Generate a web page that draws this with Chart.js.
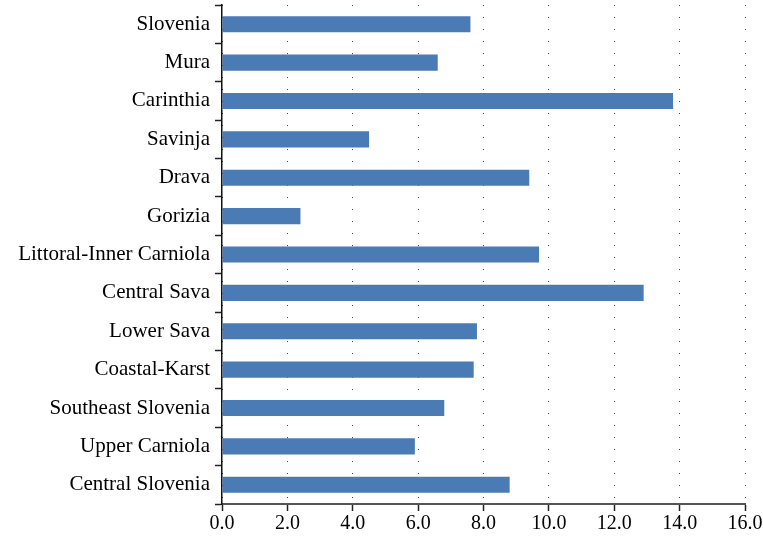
<!DOCTYPE html>
<html>
<head>
<meta charset="utf-8">
<script src="https://cdn.jsdelivr.net/npm/chart.js@4"></script>
<style>
html,body{margin:0;padding:0;background:#fff;}
#wrap{width:763px;height:541px;}
</style>
</head>
<body>
<div id="wrap"><canvas id="c" width="763" height="541"></canvas></div>
<script>
const categories = ["Slovenia","Mura","Carinthia","Savinja","Drava","Gorizia","Littoral-Inner Carniola","Central Sava","Lower Sava","Coastal-Karst","Southeast Slovenia","Upper Carniola","Central Slovenia"];
const values = [7.6, 6.6, 13.8, 4.5, 9.4, 2.4, 9.7, 12.9, 7.8, 7.7, 6.8, 5.9, 8.8];
const xTicks = [0, 2, 4, 6, 8, 10, 12, 14, 16];

const FONT = "'Liberation Serif', 'DejaVu Serif', serif";
new Chart(document.getElementById('c'), {
  type: 'bar',
  data: {
    labels: categories,
    datasets: [{
      data: values,
      backgroundColor: '#4b7bb4',
      borderWidth: 0,
      barPercentage: 0.42,
      categoryPercentage: 1.0
    }]
  },
  options: {
    indexAxis: 'y',
    responsive: false,
    animation: false,
    devicePixelRatio: 1,
    layout: { padding: { top: 5, right: 0, left: 0, bottom: 0 } },
    plugins: { legend: { display: false }, tooltip: { enabled: false } },
    scales: {
      x: {
        min: 0, max: 16,
        afterBuildTicks: s => { s.ticks = xTicks.map(v => ({ value: v })); },
        afterFit: s => { s.height = 37; s.paddingRight = 18; s.paddingLeft = 0; },
        ticks: {
          callback: v => Number(v).toFixed(1),
          color: '#000',
          font: { family: FONT, size: 20 },
          padding: 1,
          maxRotation: 0
        },
        grid: {
          color: '#444',
          lineWidth: 1,
          drawOnChartArea: true,
          drawTicks: true,
          tickLength: 7,
          tickColor: '#222',
          tickWidth: 1.5,
          tickBorderDash: []
        },
        border: { display: true, color: '#555', width: 2, dash: [1, 11] }
      },
      y: {
        afterFit: s => { s.width = 222; s.paddingTop = 0; s.paddingBottom = 0; },
        ticks: {
          color: '#000',
          font: { family: FONT, size: 21 },
          padding: 5
        },
        grid: {
          offset: true,
          drawOnChartArea: false,
          drawTicks: true,
          tickLength: 7,
          tickColor: '#222',
          tickWidth: 1.5
        },
        border: { display: true, color: '#111', width: 1.5 }
      }
    }
  }
});
</script>
</body>
</html>
